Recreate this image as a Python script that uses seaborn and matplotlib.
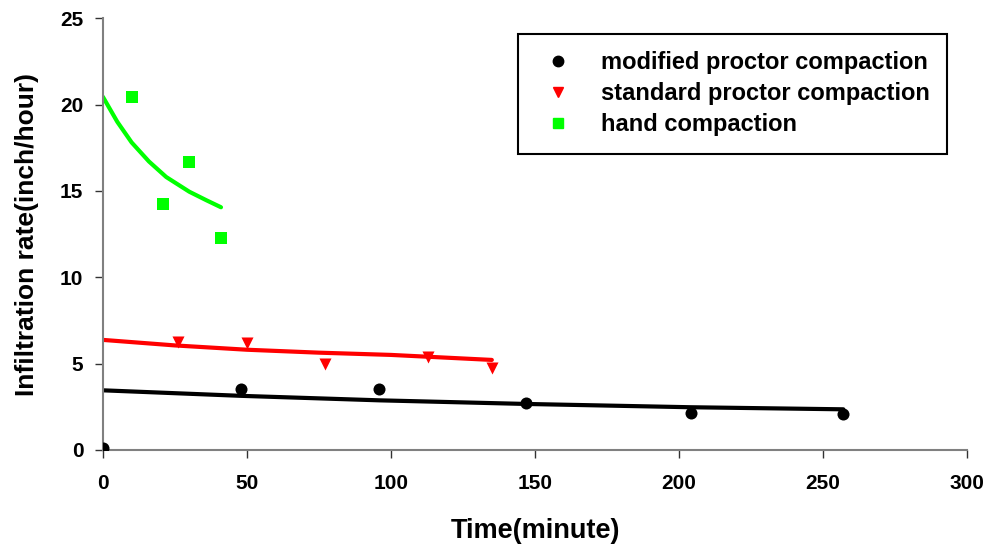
import matplotlib
matplotlib.use("Agg")
import matplotlib.pyplot as plt
import seaborn as sns
from matplotlib.lines import Line2D

# measured points
mod_x = [0, 48, 96, 147, 204, 257]
mod_y = [0.1, 3.5, 3.5, 2.74, 2.16, 2.06]
std_x = [26, 50, 77, 113, 135]
std_y = [6.27, 6.2, 4.96, 5.36, 4.73]
hand_x = [10, 21, 30, 41]
hand_y = [20.45, 14.22, 16.68, 12.29]

# fitted trend curves
mod_fit_x = [0, 48, 96, 147, 204, 257]
mod_fit_y = [3.45, 3.13, 2.87, 2.66, 2.47, 2.35]
std_fit_x = [0, 25, 50, 75, 100, 135]
std_fit_y = [6.37, 6.05, 5.8, 5.63, 5.5, 5.21]
hand_fit_x = [0, 5, 10, 16, 22, 30, 36, 41]
hand_fit_y = [20.45, 19.0, 17.8, 16.7, 15.8, 14.95, 14.45, 14.05]

labels = ["modified proctor compaction", "standard proctor compaction", "hand compaction"]
colors = ["#000000", "#FF0000", "#00FF00"]
markers = ["o", "v", "s"]

sns.set_theme(style="white")
plt.rcParams["font.family"] = ["Liberation Sans", "DejaVu Sans"]
plt.rcParams["font.weight"] = "bold"
plt.rcParams["text.color"] = "black"
plt.rcParams["axes.labelcolor"] = "black"
plt.rcParams["xtick.color"] = "black"
plt.rcParams["ytick.color"] = "black"

fig = plt.figure(figsize=(9.89, 5.5), dpi=100)
ax = fig.add_axes([0.104, 0.182, 0.874, 0.785])

series = [
    (mod_x, mod_y, mod_fit_x, mod_fit_y),
    (std_x, std_y, std_fit_x, std_fit_y),
    (hand_x, hand_y, hand_fit_x, hand_fit_y),
]
for (px, py, fx, fy), lab, col, mk in zip(series, labels, colors, markers):
    sns.lineplot(x=fx, y=fy, ax=ax, color=col, linewidth=3, legend=False,
                 estimator=None, sort=False, zorder=2)
    sns.scatterplot(x=px, y=py, ax=ax, color=col, marker=mk, s=75,
                    edgecolor=col, linewidth=0, legend=False, zorder=3)

ax.set_xlim(0, 300)
ax.set_ylim(0, 25)
ax.set_xticks([0, 50, 100, 150, 200, 250, 300])
ax.set_yticks([0, 5, 10, 15, 20, 25])
ax.tick_params(axis="both", direction="out", length=6, width=1, color="#333333",
               labelsize=15, bottom=True, left=True)
ax.tick_params(axis="x", pad=11)
ax.tick_params(axis="y", pad=8)
for lbl in ax.get_xticklabels() + ax.get_yticklabels():
    lbl.set_fontweight("bold")
for s in ["top", "right"]:
    ax.spines[s].set_visible(False)
for s in ["left", "bottom"]:
    ax.spines[s].set_color("#808080")
    ax.spines[s].set_linewidth(1.5)
ax.set_xlabel("Time(minute)", fontsize=19.5, fontweight="bold")
ax.set_ylabel("Infiltration rate(inch/hour)", fontsize=19, fontweight="bold")
ax.xaxis.set_label_coords(0.5, -0.157)
ax.yaxis.set_label_coords(-0.074, 0.5)

handles = [Line2D([], [], linestyle="none", marker=m, color=c, markersize=7.5)
           for m, c in zip(markers, colors)]
leg = ax.legend(handles, labels, loc="upper right",
                bbox_to_anchor=(947 / 989, 1 - 34 / 550), bbox_transform=fig.transFigure,
                frameon=True, fancybox=False, shadow=False,
                prop={"weight": "bold", "size": 17}, borderpad=0.73, borderaxespad=0,
                handletextpad=0.8, labelspacing=0.34, handlelength=2.0)
leg.get_frame().set_edgecolor("black")
leg.get_frame().set_linewidth(1.5)
leg.get_frame().set_alpha(1)

fig.savefig("out.png", dpi=100)
